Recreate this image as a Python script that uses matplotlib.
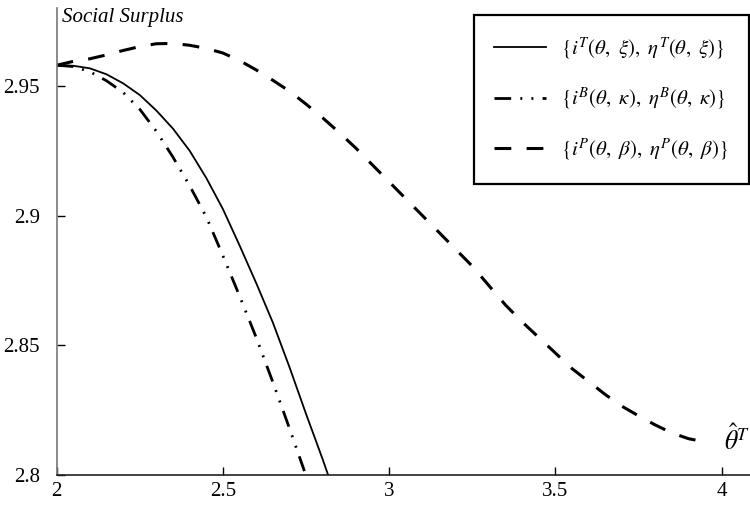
import matplotlib.pyplot as plt

plt.rcParams['font.family'] = ['Liberation Serif', 'DejaVu Serif']
plt.rcParams['mathtext.fontset'] = 'stix'

# solid curve  {i^T, eta^T}
theta_T = [2.0, 2.05, 2.10, 2.15, 2.20, 2.25, 2.30, 2.35, 2.40, 2.45, 2.50,
           2.55, 2.60, 2.65, 2.70, 2.75, 2.80, 2.817]
ss_T = [2.958, 2.9578, 2.9568, 2.9545, 2.951, 2.9465, 2.9405, 2.9335, 2.925,
        2.9145, 2.9025, 2.8885, 2.874, 2.8588, 2.8416, 2.8235, 2.806, 2.7997]

# dash-dot curve  {i^B, eta^B}
theta_B = [2.0, 2.05, 2.10, 2.15, 2.20, 2.25, 2.30, 2.35, 2.40, 2.45, 2.50,
           2.55, 2.60, 2.65, 2.70, 2.745]
ss_B = [2.958, 2.9575, 2.9555, 2.952, 2.9475, 2.941, 2.9325, 2.9225, 2.9115,
        2.8995, 2.8845, 2.869, 2.853, 2.8358, 2.818, 2.8015]

# dashed curve  {i^P, eta^P}
theta_P = [2.0, 2.05, 2.10, 2.15, 2.20, 2.25, 2.30, 2.35, 2.40, 2.45, 2.50,
           2.55, 2.60, 2.65, 2.70, 2.75, 2.80, 2.85, 2.90, 2.95, 3.00, 3.05,
           3.10, 3.15, 3.20, 3.25, 3.30, 3.35, 3.40, 3.45, 3.50, 3.55, 3.60,
           3.65, 3.70, 3.75, 3.80, 3.85, 3.90, 3.96]
ss_P = [2.958, 2.9595, 2.9605, 2.962, 2.9637, 2.9652, 2.9663, 2.9664, 2.9657,
        2.9645, 2.9627, 2.9598, 2.9562, 2.9522, 2.948, 2.943, 2.9377, 2.932,
        2.926, 2.9195, 2.913, 2.9065, 2.9, 2.8935, 2.887, 2.8805, 2.873,
        2.8655, 2.859, 2.853, 2.847, 2.841, 2.836, 2.831, 2.8265, 2.8228,
        2.8193, 2.8162, 2.814, 2.8125]

labels = [r'$\{i^T(\theta,\ \xi),\ \eta^T(\theta,\ \xi)\}$',
          r'$\{i^B(\theta,\ \kappa),\ \eta^B(\theta,\ \kappa)\}$',
          r'$\{i^P(\theta,\ \beta),\ \eta^P(\theta,\ \beta)\}$']

fig = plt.figure(figsize=(7.5, 5.12), dpi=100)
ax = fig.add_axes([0.0756, 0.0723, 0.9244, 0.9117])

ax.plot(theta_T, ss_T, color='black', lw=1.3, label=labels[0])
ax.plot(theta_B, ss_B, color='black', lw=2.0,
        dashes=(6, 3.3, 0.7, 3.3, 0.7, 3.3), label=labels[1])
ax.plot(theta_P, ss_P, color='black', lw=2.2, dashes=(5.5, 5), label=labels[2])

ax.set_xlim(2, 4.085)
ax.set_ylim(2.8, 2.98)
ax.set_xticks([2, 2.5, 3, 3.5, 4])
ax.set_xticklabels(['2', '2.5', '3', '3.5', '4'])
ax.set_yticks([2.8, 2.85, 2.9, 2.95])
ax.set_yticklabels(['2.8', '2.85', '2.9', '2.95'])
ax.tick_params(axis='both', direction='in', length=6, width=1, labelsize=15)
ax.tick_params(axis='x', pad=5)
ax.tick_params(axis='y', pad=12)

for s in ['top', 'right']:
    ax.spines[s].set_visible(False)
ax.spines['left'].set_color('#777777')
ax.spines['bottom'].set_color('#222222')
ax.spines['left'].set_linewidth(1.2)
ax.spines['bottom'].set_linewidth(1.2)

ax.text(2.015, 2.9765, 'Social Surplus', fontsize=15, style='italic',
        va='center', ha='left')
ax.text(4.006, 2.8135, r'$\hat{\theta}^T$', fontsize=18.5, va='center', ha='left')

leg = fig.legend(loc='upper right', bbox_to_anchor=(0.999, 0.971), fontsize=15,
                 fancybox=False, framealpha=1, edgecolor='black',
                 handlelength=2.5, borderpad=1.0, labelspacing=1.17,
                 handletextpad=0.7, borderaxespad=0)
leg.get_frame().set_linewidth(1.6)

plt.savefig('out.png', dpi=100)
